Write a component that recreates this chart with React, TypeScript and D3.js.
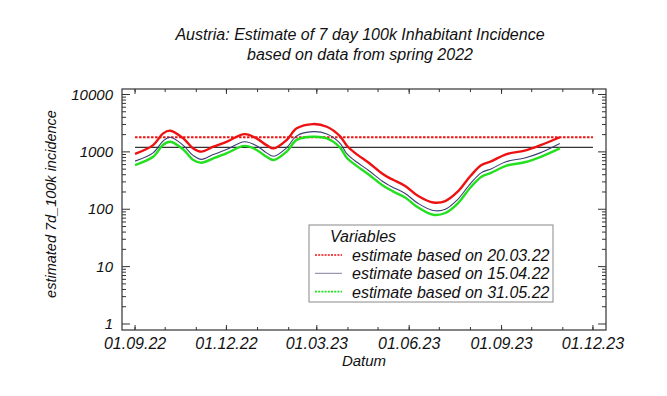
import React from "react";
import * as d3 from "d3";

// dates of the estimate curves (dd.mm.yy)
const dates = [
  "01.09.22", "19.09.22", "29.09.22", "06.10.22", "19.10.22", "29.10.22",
  "06.11.22", "18.11.22", "01.12.22", "19.12.22", "31.12.22", "10.01.23",
  "17.01.23", "30.01.23", "09.02.23", "25.02.23", "11.03.23", "24.03.23",
  "31.03.23", "08.04.23", "22.04.23", "05.05.23", "13.05.23", "17.05.23",
  "28.05.23", "10.06.23", "25.06.23", "07.07.23", "19.07.23", "01.08.23",
  "12.08.23", "22.08.23", "06.09.23", "24.09.23", "10.10.23", "29.10.23",
];

const est200322 = [
  920, 1310, 2100, 2340, 1720, 1150, 1010, 1230, 1500, 2040, 1720, 1310,
  1150, 1610, 2570, 3050, 2740, 1880, 1280, 960, 640, 420, 345, 320,
  255, 170, 131, 139, 200, 380, 590, 690, 915, 1050, 1310, 1800,
];
const est150422 = [
  690, 960, 1550, 1800, 1300, 860, 740, 900, 1100, 1500, 1280, 960,
  840, 1180, 1900, 2250, 2050, 1420, 920, 700, 470, 310, 255, 235,
  188, 126, 95, 100, 146, 280, 435, 510, 680, 780, 970, 1400,
];
const est310522 = [
  590, 820, 1330, 1500, 1100, 720, 646, 770, 940, 1270, 1080, 820,
  720, 1010, 1620, 1830, 1720, 1200, 780, 600, 400, 265, 218, 200,
  160, 107, 80, 86, 124, 240, 370, 435, 575, 660, 820, 1150,
];

// horizontal reference levels
const refRed = 1800;
const refBlack = 1200;
const refSpan = ["01.09.22", "01.12.23"];

const xTickLabels = ["01.09.22", "01.12.22", "01.03.23", "01.06.23", "01.09.23", "01.12.23"];
const yTicks = [1, 10, 100, 1000, 10000];
const legendLabels = [
  "estimate based on 20.03.22",
  "estimate based on 15.04.22",
  "estimate based on 31.05.22",
];

const W = 667;
const H = 396;
const box = { left: 122, right: 606, top: 89, bottom: 330 };
const font = "'Liberation Sans', Arial, sans-serif";

const parse = d3.timeParse("%d.%m.%y");

export default function App() {
  const x = d3
    .scaleTime()
    .domain([new Date(2022, 7, 19), new Date(2023, 11, 14)])
    .range([box.left, box.right]);
  const y = d3.scaleLog().domain([0.786, 12470]).range([box.bottom, box.top]);

  const pts = (vals: number[]) => dates.map((d, i) => [parse(d)!, vals[i]] as [Date, number]);
  const lineGen = d3
    .line<[Date, number]>()
    .x((d) => x(d[0]))
    .y((d) => y(d[1]))
    .curve(d3.curveCatmullRom.alpha(0.5));

  const monthTicks = x.ticks(d3.timeMonth.every(1)!);
  const majorX = xTickLabels.map((s) => parse(s)!);
  const minorY: number[] = [];
  yTicks.slice(0, -1).forEach((t) => {
    for (let k = 2; k <= 9; k++) minorY.push(t * k);
  });

  const x0 = x(parse(refSpan[0])!);
  const x1 = x(parse(refSpan[1])!);

  const series = [
    { vals: est200322, color: "#ee1111", width: 2.4, lDash: "2,1.2", lw: 1.6 },
    { vals: est150422, color: "#3c3c72", width: 1.1, lDash: undefined, lw: 1, lColor: "#8080a0" },
    { vals: est310522, color: "#22e01e", width: 2.4, lDash: "2,1.2", lw: 1.6 },
  ];

  return (
    <svg
      width={W}
      height={H}
      style={{ position: "absolute", left: 0, top: 0, background: "#fff" }}
      fontFamily={font}
      fontStyle="italic"
    >
      <rect width={W} height={H} fill="#fff" />
      {/* title */}
      <text x={360} y={40} textAnchor="middle" fontSize={16} fill="#111">
        Austria: Estimate of 7 day 100k Inhabitant Incidence
      </text>
      <text x={360} y={60} textAnchor="middle" fontSize={16} fill="#111">
        based on data from spring 2022
      </text>

      {/* reference lines */}
      <line x1={x0} x2={x1} y1={y(refBlack)} y2={y(refBlack)} stroke="#333" strokeWidth={1.2} />
      <line
        x1={x0}
        x2={x1}
        y1={y(refRed)}
        y2={y(refRed)}
        stroke="#ee1111"
        strokeWidth={2}
        strokeDasharray="2.5,1.5"
      />

      {/* curves */}
      {series.map((s, i) => (
        <path
          key={i}
          d={lineGen(pts(s.vals)) || ""}
          fill="none"
          stroke={s.color}
          strokeWidth={s.width}
          strokeLinejoin="round"
        />
      ))}

      {/* frame */}
      <rect
        x={box.left}
        y={box.top}
        width={box.right - box.left}
        height={box.bottom - box.top}
        fill="none"
        stroke="#333"
        strokeWidth={1.2}
      />

      {/* x ticks bottom + top */}
      {monthTicks.map((d, i) => (
        <g key={"m" + i} stroke="#333" strokeWidth={1}>
          <line x1={x(d)} x2={x(d)} y1={box.bottom} y2={box.bottom - 3} />
          <line x1={x(d)} x2={x(d)} y1={box.top} y2={box.top + 3} />
        </g>
      ))}
      {majorX.map((d, i) => (
        <g key={"M" + i}>
          <line x1={x(d)} x2={x(d)} y1={box.bottom} y2={box.bottom - 5} stroke="#333" />
          <line x1={x(d)} x2={x(d)} y1={box.top} y2={box.top + 5} stroke="#333" />
          <text x={x(d)} y={349} textAnchor="middle" fontSize={16} fill="#111">
            {xTickLabels[i]}
          </text>
        </g>
      ))}
      <text x={(box.left + box.right) / 2} y={366} textAnchor="middle" fontSize={15} fill="#111">
        Datum
      </text>

      {/* y ticks left + right */}
      {minorY.map((v, i) => (
        <g key={"my" + i} stroke="#333" strokeWidth={1}>
          <line x1={box.left} x2={box.left + 4} y1={y(v)} y2={y(v)} />
          <line x1={box.right} x2={box.right - 4} y1={y(v)} y2={y(v)} />
        </g>
      ))}
      {yTicks.map((v, i) => (
        <g key={"My" + i}>
          <line x1={box.left} x2={box.left + 8} y1={y(v)} y2={y(v)} stroke="#333" />
          <line x1={box.right} x2={box.right - 8} y1={y(v)} y2={y(v)} stroke="#333" />
          <text x={box.left - 9} y={y(v) + 5} textAnchor="end" fontSize={15} fill="#111">
            {v}
          </text>
        </g>
      ))}
      <text
        transform={`translate(56, 204) rotate(-90)`}
        textAnchor="middle"
        fontSize={14.5}
        fill="#111"
      >
        estimated 7d_100k incidence
      </text>

      {/* legend */}
      <g>
        <rect x={309} y={225} width={244} height={77} fill="#fff" stroke="#888" strokeWidth={1} />
        <text x={330} y={242} fontSize={16} fill="#111">
          Variables
        </text>
        {series.map((s, i) => (
          <g key={"l" + i}>
            <line
              x1={315}
              x2={342}
              y1={255 + i * 18.3}
              y2={255 + i * 18.3}
              stroke={s.lColor || s.color}
              strokeWidth={s.lw}
              strokeDasharray={s.lDash}
            />
            <text x={352} y={261 + i * 18.3} fontSize={16} fill="#111">
              {legendLabels[i]}
            </text>
          </g>
        ))}
      </g>
    </svg>
  );
}
